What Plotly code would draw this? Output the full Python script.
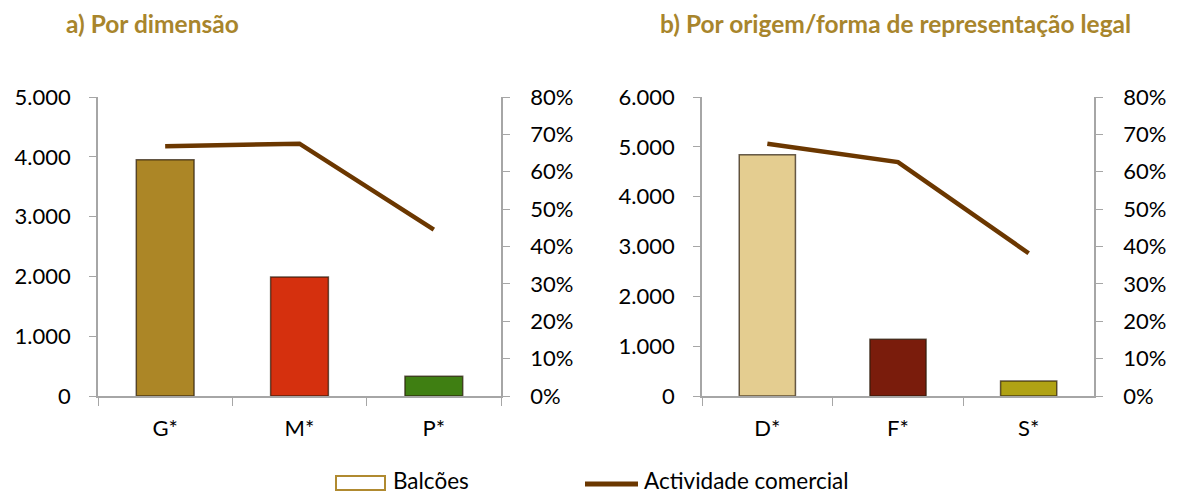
import plotly.graph_objects as go
from plotly.subplots import make_subplots

# a) Por dimensão
cat_a = ["G*", "M*", "P*"]
balcoes_a = [3950, 1990, 330]
activ_a = [0.668, 0.675, 0.445]
cores_a = ["#AC8626", "#D5300E", "#3F7F12"]

# b) Por origem/forma de representação legal
cat_b = ["D*", "F*", "S*"]
balcoes_b = [4840, 1140, 300]
activ_b = [0.675, 0.626, 0.382]
cores_b = ["#E4CD90", "#7A1C0C", "#B0A214"]

line_color = "#6B3700"
title_color = "#A8852C"
axis_color = "#A6A6A6"
font = "Lato"

# page body has an 8px margin, so the figure is a bit smaller and offset
OFF = 8
W, H = 1184 - OFF, 494 - OFF
def fx(px):
    return (px - OFF) / W
def fy(py):
    return (H - (py - OFF)) / H

fig = make_subplots(rows=1, cols=2, specs=[[{"secondary_y": True}, {"secondary_y": True}]])

for col, cats, vals, cols, act in [(1, cat_a, balcoes_a, cores_a, activ_a),
                                   (2, cat_b, balcoes_b, cores_b, activ_b)]:
    fig.add_trace(go.Bar(x=cats, y=vals, width=0.43, name="Balcões",
                         marker=dict(color=cols, line=dict(color="rgba(40,25,10,0.7)", width=1.5))),
                  row=1, col=col, secondary_y=False)
    fig.add_trace(go.Scatter(x=cats, y=act, mode="lines", name="Actividade comercial",
                             line=dict(color=line_color, width=4.5)),
                  row=1, col=col, secondary_y=True)

ydom = [fy(396), fy(97)]
ann = dict(xref="paper", yref="paper", showarrow=False, yanchor="middle")
fig.update_layout(
    width=W, height=H,
    margin=dict(l=0, r=0, t=0, b=0, autoexpand=False),
    paper_bgcolor="white", plot_bgcolor="white",
    separators=",.",
    font=dict(family=font, size=22, color="black"),
    showlegend=False,
    xaxis=dict(domain=[fx(98), fx(501)]),
    xaxis2=dict(domain=[fx(702), fx(1094)]),
    annotations=[
        dict(text="<b>a) Por dimensão</b>", x=fx(152), y=fy(24), xanchor="center",
             font=dict(size=24.5, color=title_color, family=font), **ann),
        dict(text="<b>b) Por origem/forma de representação legal</b>", x=fx(895), y=fy(24),
             xanchor="center", font=dict(size=24.5, color=title_color, family=font), **ann),
        # legend texts
        dict(text="Balcões", x=fx(391), y=fy(480), xanchor="left",
             font=dict(size=22.5, family=font), **ann),
        dict(text="Actividade comercial", x=fx(642), y=fy(480), xanchor="left",
             font=dict(size=22.5, family=font), **ann),
    ],
    shapes=[
        dict(type="rect", xref="paper", yref="paper", x0=fx(336), x1=fx(385), y0=fy(490), y1=fy(476),
             line=dict(color="#B08A30", width=2), fillcolor="white"),
        dict(type="line", xref="paper", yref="paper", x0=fx(585), x1=fx(638), y0=fy(484), y1=fy(484),
             line=dict(color=line_color, width=5)),
    ],
)

fig.update_xaxes(showline=True, linecolor=axis_color, linewidth=1.5, ticks="outside",
                 tickson="boundaries", ticklen=8, tickcolor=axis_color, showgrid=False,
                 zeroline=False, automargin=False, ticklabelstandoff=12)

fig.update_yaxes(domain=ydom, showgrid=False, zeroline=False, showline=True,
                 linecolor=axis_color, linewidth=1.5, ticks="outside", ticklen=7,
                 tickcolor=axis_color, automargin=False)
fig.update_yaxes(range=[0, 5000], dtick=1000, tickformat=",.0f", ticklabelstandoff=14,
                 row=1, col=1, secondary_y=False)
fig.update_yaxes(range=[0, 6000], dtick=1000, tickformat=",.0f", ticklabelstandoff=14,
                 row=1, col=2, secondary_y=False)
fig.update_yaxes(range=[0, 0.8], dtick=0.1, tickformat=".0%", ticklabelstandoff=16,
                 row=1, col=1, secondary_y=True)
fig.update_yaxes(range=[0, 0.8], dtick=0.1, tickformat=".0%", ticklabelstandoff=16,
                 row=1, col=2, secondary_y=True)

fig.write_html("out.html")
